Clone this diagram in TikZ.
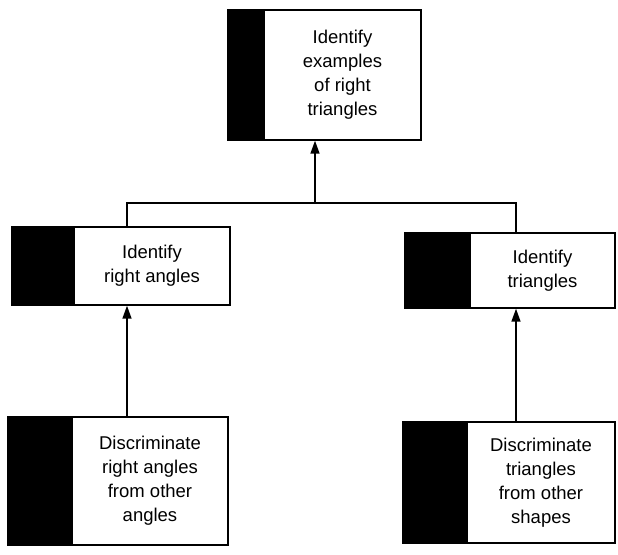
\documentclass[tikz,border=0pt]{standalone}
\usepackage{fontspec}
\setmainfont{Liberation Sans}
\usetikzlibrary{arrows.meta}
\begin{document}
\begin{tikzpicture}[x=1pt,y=-1pt,
  wbox/.style={draw=black, line width=1.4pt, fill=white, align=center, inner sep=0pt,
    font=\fontsize{18.5pt}{24pt}\selectfont},
  blk/.style={fill=black},
  conn/.style={line width=1.6pt},
  arr/.style={line width=1.6pt, -{Triangle[length=13pt,width=9pt]}}]
\useasboundingbox (0,0) rectangle (618,554);
% boxes
\node[wbox, minimum width=157pt, minimum height=130pt] (top) at (342.5,75)
  {Identify\\examples\\of right\\triangles};
\node[wbox, minimum width=156pt, minimum height=78pt] (lm) at (152,266)
  {Identify\\right angles};
\node[wbox, minimum width=145pt, minimum height=75pt] (rm) at (542.5,270.5)
  {Identify\\triangles};
\node[wbox, minimum width=156pt, minimum height=128pt] (bl) at (150,481)
  {Discriminate\\right angles\\from other\\angles};
\node[wbox, minimum width=148pt, minimum height=121pt] (br) at (541,482.5)
  {Discriminate\\triangles\\from other\\shapes};
% black side blocks
\fill[blk] ([xshift=-36pt]top.north west) rectangle (top.south west);
\fill[blk] ([xshift=-62pt]lm.north west) rectangle (lm.south west);
\fill[blk] ([xshift=-65pt]rm.north west) rectangle (rm.south west);
\fill[blk] ([xshift=-64pt]bl.north west) rectangle (bl.south west);
\fill[blk] ([xshift=-64pt]br.north west) rectangle (br.south west);
% connector coordinates
\coordinate (xl) at (127,0);
\coordinate (xr) at (516,0);
\coordinate (j) at (315,203);
% connectors
\draw[conn] (lm.north -| xl) -- (xl |- j) -- (xr |- j) -- (rm.north -| xr);
\draw[arr] (j) -- (top.south -| j);
\draw[arr] (bl.north -| xl) -- (lm.south -| xl);
\draw[arr] (br.north -| xr) -- (rm.south -| xr);
\end{tikzpicture}
\end{document}
